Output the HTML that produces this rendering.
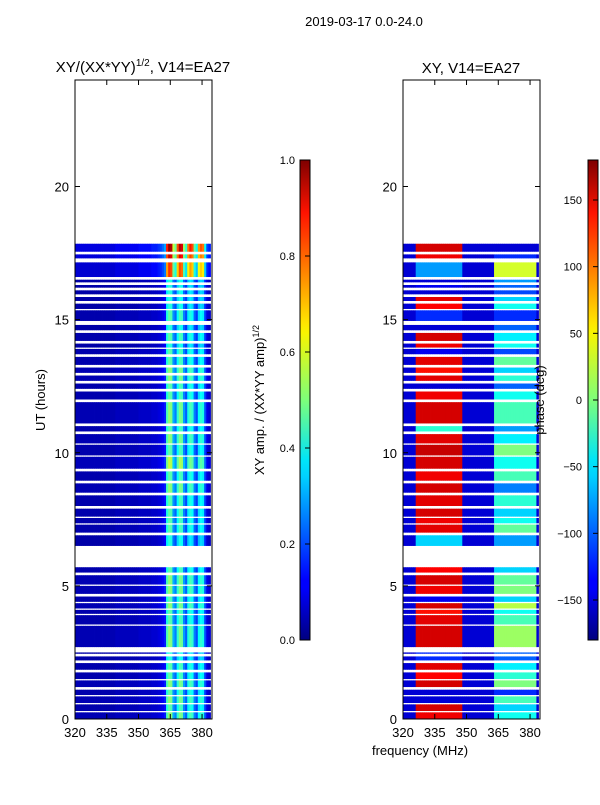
<!DOCTYPE html>
<html><head><meta charset="utf-8">
<style>
body{margin:0;background:#fff;}
svg text{font-family:"Liberation Sans",sans-serif;fill:#000;}
</style></head>
<body>
<svg id="fig" width="600" height="800" xmlns="http://www.w3.org/2000/svg">
<defs>
<linearGradient id="jet" x1="0" y1="1" x2="0" y2="0">
<stop offset="0" stop-color="#00007f"/><stop offset="0.11" stop-color="#0000ff"/>
<stop offset="0.125" stop-color="#0000ff"/><stop offset="0.34" stop-color="#00d0ff"/>
<stop offset="0.375" stop-color="#00e5f8"/><stop offset="0.5" stop-color="#7dff7a"/>
<stop offset="0.64" stop-color="#f8f500"/><stop offset="0.66" stop-color="#ffe600"/>
<stop offset="0.89" stop-color="#ff1300"/><stop offset="1" stop-color="#7f0000"/>
</linearGradient>
</defs>
<text x="364" y="26" font-size="13" text-anchor="middle">2019-03-17 0.0-24.0</text>
<text x="143" y="72" font-size="15" text-anchor="middle">XY/(XX*YY)<tspan font-size="10" dy="-6">1/2</tspan><tspan dy="6">, V14=EA27</tspan></text>
<text x="471" y="73" font-size="15" text-anchor="middle">XY, V14=EA27</text>
<g id="amp"></g>
<g id="pha"></g>
<g id="axes"></g>
<text transform="translate(45,400) rotate(-90)" font-size="13" text-anchor="middle">UT (hours)</text>
<text x="420" y="755" font-size="13" text-anchor="middle">frequency (MHz)</text>
<rect x="300" y="160" width="10" height="480" fill="url(#jet)" stroke="#000" stroke-width="1"/>
<rect x="588" y="160" width="10" height="480" fill="url(#jet)" stroke="#000" stroke-width="1"/>
<text transform="translate(264,400) rotate(-90)" font-size="13" text-anchor="middle">XY amp. / (XX*YY amp)<tspan font-size="9" dy="-5">1/2</tspan></text>
<text transform="translate(544,400) rotate(-90)" font-size="13" text-anchor="middle">phase (deg)</text>
<g id="cb"></g>
</svg>
<script>
// data
const segStart=[0,0.3,0.6,0.9,1.2,1.5,1.85,2.2,2.45,2.7,3.55,3.95,4.15,4.4,4.7,5.05,5.5,6.5,7.0,7.35,7.6,8.0,8.5,8.95,9.4,9.9,10.35,10.8,11.1,12.0,12.4,12.7,13.0,13.3,13.7,13.95,14.2,14.6,14.95,15.4,15.7,15.95,16.2,16.4,16.6,17.3,17.55];
const segEnd=[0.25,0.55,0.85,1.1,1.45,1.75,2.1,2.35,2.5,3.5,3.9,4.1,4.35,4.6,5.0,5.4,5.7,6.9,7.3,7.55,7.9,8.4,8.85,9.3,9.85,10.3,10.7,11.0,11.9,12.3,12.6,12.9,13.2,13.6,13.9,14.1,14.5,14.8,15.35,15.6,15.85,16.1,16.3,16.5,17.15,17.45,17.85];
const segAmp=[1.0,0.9,1.0,0.9,1.0,0.9,0.9,0.8,0.8,1.0,0.9,0.9,1.0,0.9,1.0,1.0,0.9,0.8,0.9,0.9,0.9,0.9,1.0,0.9,1.1,0.9,1.0,0.9,1.0,0.9,0.9,1.0,1.0,0.9,0.9,0.8,0.9,0.8,0.9,0.8,0.8,0.8,0.8,0.8,1.6,1.8,1.9];
const segPhaseLow=[140,150,-150,-150,150,135,145,-120,-120,150,145,130,150,-140,140,150,135,-60,145,140,150,145,150,140,150,155,145,-30,150,140,-150,145,130,145,-140,140,150,-150,-120,135,145,-150,-140,-150,-80,140,150];
const segPhaseHigh=[-40,-60,-20,-120,0,-30,-50,-100,-100,10,-20,-40,20,-60,0,-10,-60,-80,-10,-40,-60,-30,-90,-20,-40,0,-50,-80,-20,-40,-100,-30,-60,-10,-110,-40,-50,-100,-120,-40,-60,-110,-100,-80,30,-120,-150];
const chanFreq=[320,321,322,323,324,325,326,327,328,329,330,331,332,333,334,335,336,337,338,339,340,341,342,343,344,345,346,347,348,349,350,351,352,353,354,355,356,357,358,359,360,361,362,363,364,365,366,367,368,369,370,371,372,373,374,375,376,377,378,379,380,381,382,383,384];
const chanAmp=[0.05,0.05,0.05,0.05,0.05,0.05,0.05,0.05,0.05,0.05,0.05,0.05,0.05,0.05,0.05,0.05,0.05,0.05,0.05,0.06,0.06,0.06,0.06,0.06,0.06,0.06,0.06,0.06,0.06,0.06,0.07,0.07,0.07,0.07,0.07,0.07,0.08,0.08,0.08,0.09,0.1,0.12,0.15,0.45,0.52,0.5,0.3,0.25,0.42,0.5,0.48,0.28,0.22,0.4,0.45,0.42,0.25,0.2,0.38,0.42,0.4,0.2,0.1,0.08,0.08];
const chanPhaseBand=[0,0,0,0,0,0,1,1,1,1,1,1,1,1,1,1,1,1,1,1,1,1,1,1,1,1,1,1,0,0,0,0,0,0,0,0,0,0,0,0,0,0,0,2,2,2,2,2,2,2,2,2,2,2,2,2,2,2,2,2,2,2,2,0,0];
const yTicks=[0,5,10,15,20];
const xTicks=[320,335,350,365,380];
const ampTicks=[0.0,0.2,0.4,0.6,0.8,1.0];
const phaseTicks=[-150,-100,-50,0,50,100,150];

function jet(v){v=Math.max(0,Math.min(1,v));
 const r=Math.max(0,Math.min(1,1.5-Math.abs(4*v-3))),g=Math.max(0,Math.min(1,1.5-Math.abs(4*v-2))),b=Math.max(0,Math.min(1,1.5-Math.abs(4*v-1)));
 return `rgb(${Math.round(r*255)},${Math.round(g*255)},${Math.round(b*255)})`;}
const NS='http://www.w3.org/2000/svg';
function mk(tag,attrs,parent){const e=document.createElementNS(NS,tag);for(const k in attrs)e.setAttribute(k,attrs[k]);parent.appendChild(e);return e;}
const panels=[{x0:75,id:'amp'},{x0:403,id:'pha'}];
const W=137,Y0=80,Y1=719,FMIN=320,FMAX=384.7;
const xs=(x0,f)=>x0+(f-FMIN)/(FMAX-FMIN)*W;
const ys=h=>Y1-h/24*(Y1-Y0);

panels.forEach((p,pi)=>{
 const g=document.getElementById(p.id);
 for(let s=0;s<segStart.length;s++){
  const yt=ys(segEnd[s]),yb=ys(segStart[s]);
  for(let c=0;c<chanFreq.length-1;c++){
   let col;
   if(pi===0){col=jet(Math.min(1,chanAmp[c]*segAmp[s]));}
   else{const b=chanPhaseBand[c];const ph=b===1?segPhaseLow[s]:b===2?segPhaseHigh[s]:-150;col=jet((ph+180)/360);}
   const x1=xs(p.x0,chanFreq[c]),x2=Math.min(xs(p.x0,chanFreq[c+1]),p.x0+W);
   const r=mk('rect',{x:x1.toFixed(2),y:yt.toFixed(2),width:(x2-x1+0.4).toFixed(2),height:(yb-yt).toFixed(2),fill:col},g);
   
   
  }
 }
 const ax=document.getElementById('axes');
 const fr=mk('rect',{x:p.x0,y:Y0,width:W,height:Y1-Y0,fill:'none',stroke:'#000','stroke-width':1},ax);
 
 
 yTicks.forEach(t=>{const y=ys(t);
  mk('line',{x1:p.x0,x2:p.x0+5,y1:y,y2:y,stroke:'#000'},ax);
  mk('line',{x1:p.x0+W,x2:p.x0+W-5,y1:y,y2:y,stroke:'#000'},ax);
  const tx=mk('text',{x:p.x0-6,y:y+5,'font-size':13,'text-anchor':'end'},ax);tx.textContent=t;
  
  });
 xTicks.forEach(t=>{const x=xs(p.x0,t);
  mk('line',{x1:x,x2:x,y1:Y1,y2:Y1-5,stroke:'#000'},ax);
  mk('line',{x1:x,x2:x,y1:Y0,y2:Y0+5,stroke:'#000'},ax);
  const tx=mk('text',{x:x,y:Y1+18,'font-size':13,'text-anchor':'middle'},ax);tx.textContent=t;
  
  });
});
const cb=document.getElementById('cb');
ampTicks.forEach(t=>{const y=640-t*480;
 mk('line',{x1:305,x2:310,y1:y,y2:y,stroke:'#000'},cb);
 const tx=mk('text',{x:295,y:y+4,'font-size':11,'text-anchor':'end'},cb);tx.textContent=t.toFixed(1);
 
 });
phaseTicks.forEach(t=>{const y=400-t/180*240;
 mk('line',{x1:593,x2:598,y1:y,y2:y,stroke:'#000'},cb);
 const tx=mk('text',{x:582,y:y+4,'font-size':11,'text-anchor':'end'},cb);tx.textContent=t<0?'\u2212'+(-t):t;
 
 });
</script>
</body></html>
